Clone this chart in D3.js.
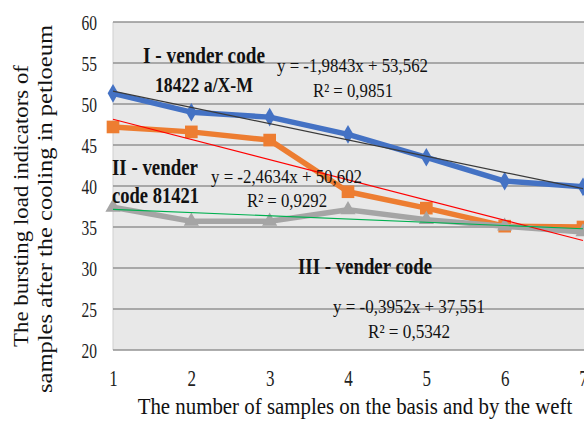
<!DOCTYPE html>
<html>
<head>
<meta charset="utf-8">
<script src="https://cdn.jsdelivr.net/npm/d3@7"></script>
<style>
  body { margin: 0; background: #fff; }
  svg text { font-family: "Liberation Serif", "DejaVu Serif", serif; }
</style>
</head>
<body>
<div id="chart"></div>
<script>
// samples 1..7
var samples = [1, 2, 3, 4, 5, 6, 7];
var code18422 = [51.3, 49.0, 48.4, 46.3, 43.5, 40.6, 39.9];
var code81421 = [47.2, 46.6, 45.6, 39.3, 37.3, 35.1, 35.0];
var code3 = [37.4, 35.7, 35.7, 37.1, 35.9, 35.1, 34.4];
var yTicks = [20, 25, 30, 35, 40, 45, 50, 55, 60];
// trendline coefficients as printed on the chart (slope, intercept)
var trend1 = [-1.9843, 53.562];
var trend2 = [-2.4634, 50.602];
var trend3 = [-0.3952, 37.551];

var width = 584, height = 423;
var svg = d3.select("#chart").append("svg")
    .attr("width", width)
    .attr("height", height);

var x = d3.scaleLinear().domain([1, 7]).range([113, 583]);
var y = d3.scaleLinear().domain([20, 60]).range([350, 22]);

// plot area
svg.append("rect")
    .attr("x", x(1)).attr("y", y(60))
    .attr("width", width - x(1)).attr("height", y(20) - y(60))
    .style("fill", "#e8e8e8");
svg.append("line")
    .attr("x1", x(1)).attr("x2", x(1))
    .attr("y1", y(60)).attr("y2", y(20))
    .style("stroke", "#cfcfcf");

svg.append("g").selectAll("line")
    .data(yTicks)
    .enter().append("line")
    .attr("x1", x(1)).attr("x2", width)
    .attr("y1", function (d) { return y(d); })
    .attr("y2", function (d) { return y(d); })
    .style("stroke", "#939393")
    .style("stroke-width", 1.5);

// axes labels (text squeezed horizontally like the original picture)
var yAxis = d3.axisLeft(y).tickValues(yTicks).tickSize(0).tickPadding(16);
var gy = svg.append("g").attr("transform", "translate(" + x(1) + ",0)").call(yAxis);
gy.select(".domain").remove();
gy.selectAll("text")
    .style("font-family", "Liberation Serif")
    .style("font-size", "22px")
    .attr("textLength", 15.5)
    .attr("lengthAdjust", "spacingAndGlyphs")
    .attr("fill", "#222");

var xAxis = d3.axisBottom(x).tickValues(samples).tickFormat(d3.format("d")).tickSize(0).tickPadding(20);
var gx = svg.append("g").attr("transform", "translate(0," + y(20) + ")").call(xAxis);
gx.select(".domain").remove();
gx.selectAll("text")
    .style("font-family", "Liberation Serif")
    .style("font-size", "23px")
    .attr("textLength", 8.5)
    .attr("lengthAdjust", "spacingAndGlyphs")
    .attr("fill", "#222");

// series
var series = [
    { values: code18422, color: "#4472c4", shape: d3.symbolDiamond, size: 100 },
    { values: code81421, color: "#ed7d31", shape: d3.symbolSquare, size: 160 },
    { values: code3, color: "#a5a5a5", shape: d3.symbolTriangle, size: 100 }
];

var line = d3.line()
    .x(function (d, i) { return x(samples[i]); })
    .y(function (d) { return y(d); });

series.forEach(function (s) {
    svg.append("path")
        .datum(s.values)
        .attr("d", line)
        .style("fill", "none")
        .style("stroke", s.color)
        .style("stroke-width", 5.5)
        .style("stroke-linejoin", "round");
    svg.append("g").selectAll("path")
        .data(s.values)
        .enter().append("path")
        .attr("d", d3.symbol().type(s.shape).size(s.size))
        .attr("transform", function (d, i) {
            return "translate(" + x(samples[i]) + "," + y(d) + ")";
        })
        .style("fill", s.color);
});

// trendlines
var trends = [
    { c: trend1, color: "#3a3a3a" },
    { c: trend2, color: "#ff0000" },
    { c: trend3, color: "#00b050" }
];
trends.forEach(function (t) {
    svg.append("line")
        .attr("x1", x(1)).attr("y1", y(t.c[0] * 1 + t.c[1]))
        .attr("x2", x(7)).attr("y2", y(t.c[0] * 7 + t.c[1]))
        .style("stroke", t.color)
        .style("stroke-width", 1.2);
});

// annotations: text, left x, baseline y, font size, width, bold
function label(txt, px, py, size, len, bold) {
    svg.append("text")
        .attr("x", px).attr("y", py)
        .attr("textLength", len)
        .attr("lengthAdjust", "spacingAndGlyphs")
        .style("font-size", size + "px")
        .style("font-weight", bold ? "bold" : "normal")
        .attr("fill", "#111")
        .text(txt);
}
label("I - vender code", 143, 63, 23, 122, true);
label("18422 a/X-M", 155, 92, 22, 98, true);
label("y = -1,9843x + 53,562", 277, 72, 19, 151, false);
label("R² = 0,9851", 313, 97, 19, 80, false);
label("II - vender", 112, 175, 23, 86, true);
label("code 81421", 112, 203, 23, 87, true);
label("y = -2,4634x + 50,602", 211, 183, 19, 151, false);
label("R² = 0,9292", 247, 207, 19, 80, false);
label("III - vender code", 298, 274, 23, 134, true);
label("y = -0,3952x + 37,551", 333, 313, 19, 152, false);
label("R² = 0,5342", 368, 338, 19, 82, false);

// axis titles
svg.append("text")
    .attr("transform", "translate(28,206) rotate(-90)")
    .attr("text-anchor", "middle")
    .attr("textLength", 282)
    .attr("lengthAdjust", "spacingAndGlyphs")
    .style("font-size", "21px")
    .attr("fill", "#111")
    .text("The bursting load indicators of");
svg.append("text")
    .attr("transform", "translate(52,209) rotate(-90)")
    .attr("text-anchor", "middle")
    .attr("textLength", 368)
    .attr("lengthAdjust", "spacingAndGlyphs")
    .style("font-size", "21px")
    .attr("fill", "#111")
    .text("samples after the cooling in petloeum");
svg.append("text")
    .attr("transform", "translate(355,414) scale(0.87,1)")
    .attr("text-anchor", "middle")
    .style("font-size", "24px")
    .attr("fill", "#111")
    .text("The number of samples on the basis and by the weft");
</script>
</body>
</html>
